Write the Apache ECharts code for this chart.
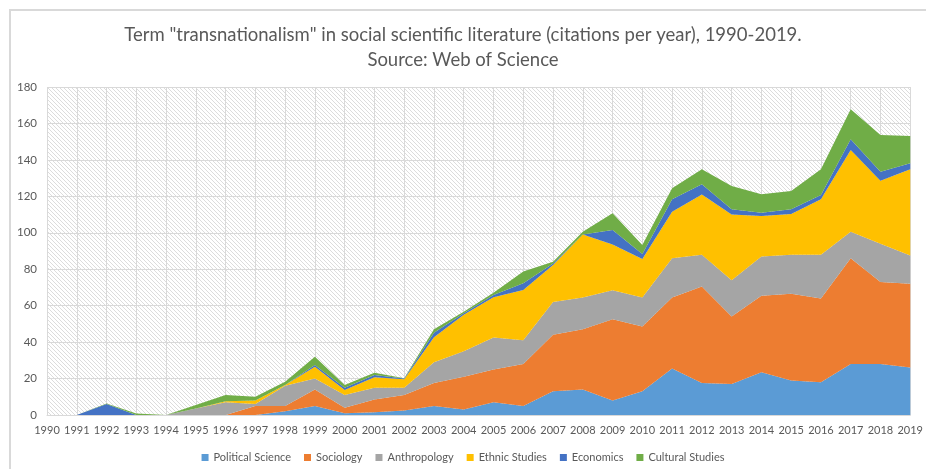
<!DOCTYPE html>
<html>
<head>
<meta charset="utf-8">
<script src="https://cdn.jsdelivr.net/npm/echarts@6/dist/echarts.min.js"></script>
<style>
  html, body { margin: 0; padding: 0; background: #fff; }
  #chart { width: 926px; height: 469px; }
</style>
</head>
<body>
<div id="chart"></div>
<script>
const years = [];
for (let y = 1990; y <= 2019; y++) years.push(String(y));

const politicalScience = [0, 0, 0, 0, 0, 0, 0, 0, 2, 5, 1, 1.5, 2.5, 5, 3, 7, 5, 13, 14, 8, 13, 25.5, 17.5, 17, 23.5, 19, 18, 28, 28, 26];
const sociology = [0, 0, 0, 0, 0, 0, 0, 5, 3, 9, 3, 7, 8.5, 12.5, 18, 18, 23, 31, 33, 44.5, 35.5, 39, 53, 37, 42, 47.5, 46, 58, 45, 46];
const anthropology = [0, 0, 0, 0, 0, 3.5, 7, 1, 11, 6, 7, 6.5, 4, 11.5, 14, 17.5, 13, 18, 17.5, 16, 16, 21.5, 17.5, 20, 21.5, 21.5, 24, 14.5, 21, 15.5];
const ethnicStudies = [0, 0, 0, 0, 0, 0, 0.5, 2, 0.5, 6.5, 2.7, 5.7, 4.6, 13.6, 20, 22.1, 27.6, 20.3, 34.5, 25, 21.1, 25.6, 33, 36, 22.2, 22.3, 30.4, 44.9, 34.6, 47.3];
const economics = [0, 0, 6, 0, 0, 0, 0, 0, 0, 1, 1.3, 1.3, 0.4, 2.6, 0.8, 1.3, 3.7, 0.9, 0, 8, 2.8, 6.8, 5.6, 2.9, 1.8, 2.6, 2.3, 5.9, 4.9, 3.3];
const culturalStudies = [0, 0, 0.3, 0.8, 0, 2, 3.5, 2, 1.8, 4.5, 1.5, 1.2, 0.2, 1.8, 0.9, 1.2, 6.4, 0.9, 1.6, 9.2, 4.9, 6, 8.2, 12.8, 10.1, 10, 14.1, 16.5, 20.2, 15];

const seriesNames = ['Political Science', 'Sociology', 'Anthropology', 'Ethnic Studies', 'Economics', 'Cultural Studies'];
const seriesData = [politicalScience, sociology, anthropology, ethnicStudies, economics, culturalStudies];
const COLORS = ['#5b9bd5', '#ed7d31', '#a5a5a5', '#ffc000', '#4472c4', '#70ad47'];

const TEXT = '#595959';
const FONT = 'Lato, "Open Sans", sans-serif';

// light diagonal hatch for the plot area
function hatchPattern() {
  const size = 4;
  const c = document.createElement('canvas');
  c.width = size;
  c.height = size;
  const ctx = c.getContext('2d');
  ctx.fillStyle = '#ffffff';
  ctx.fillRect(0, 0, size, size);
  ctx.strokeStyle = '#dcdcdc';
  ctx.lineWidth = 1;
  ctx.beginPath();
  ctx.moveTo(-1, -1);
  ctx.lineTo(size + 1, size + 1);
  ctx.moveTo(-1, size - 1);
  ctx.lineTo(1, size + 1);
  ctx.moveTo(size - 1, -1);
  ctx.lineTo(size + 1, 1);
  ctx.stroke();
  return { image: c, repeat: 'repeat' };
}

const chart = echarts.init(document.getElementById('chart'), null, { renderer: 'canvas' });

chart.setOption({
  animation: false,
  color: COLORS,
  graphic: [
    {
      type: 'rect',
      shape: { x: 10, y: 10, width: 940, height: 480 },
      style: { fill: 'none', stroke: '#d9d9d9', lineWidth: 2 }
    }
  ],
  title: {
    text: 'Term "transnationalism" in social scientific literature (citations per year), 1990-2019.\nSource: Web of Science',
    left: 'center',
    top: 18,
    textStyle: {
      fontFamily: FONT,
      fontSize: 18.5,
      fontWeight: 'normal',
      color: TEXT,
      lineHeight: 25
    }
  },
  legend: {
    bottom: 1,
    left: 'center',
    icon: 'rect',
    itemWidth: 7,
    itemHeight: 7,
    itemGap: 13,
    textStyle: { fontFamily: FONT, fontSize: 11, color: TEXT },
    data: seriesNames
  },
  grid: {
    left: 47,
    right: 13,
    top: 87,
    bottom: 54,
    show: true,
    borderWidth: 0,
    backgroundColor: hatchPattern()
  },
  xAxis: {
    type: 'category',
    data: years,
    boundaryGap: false,
    axisTick: { show: false },
    axisLine: { lineStyle: { color: '#d9d9d9', width: 1 } },
    axisLabel: { color: TEXT, fontFamily: FONT, fontSize: 11, margin: 10, interval: 0 },
    splitLine: { show: true, interval: 0, lineStyle: { color: '#d9d9d9', width: 1 } }
  },
  yAxis: {
    type: 'value',
    min: 0,
    max: 180,
    interval: 20,
    axisLine: { show: false },
    axisTick: { show: false },
    axisLabel: { color: TEXT, fontFamily: FONT, fontSize: 11.5, margin: 10 },
    splitLine: { lineStyle: { color: '#d9d9d9', width: 1 } }
  },
  series: seriesNames.map((name, i) => ({
    name,
    type: 'line',
    stack: 'total',
    data: seriesData[i],
    symbol: 'none',
    lineStyle: { width: 0 },
    areaStyle: { color: COLORS[i], opacity: 1 },
    itemStyle: { color: COLORS[i] }
  }))
});
</script>
</body>
</html>
